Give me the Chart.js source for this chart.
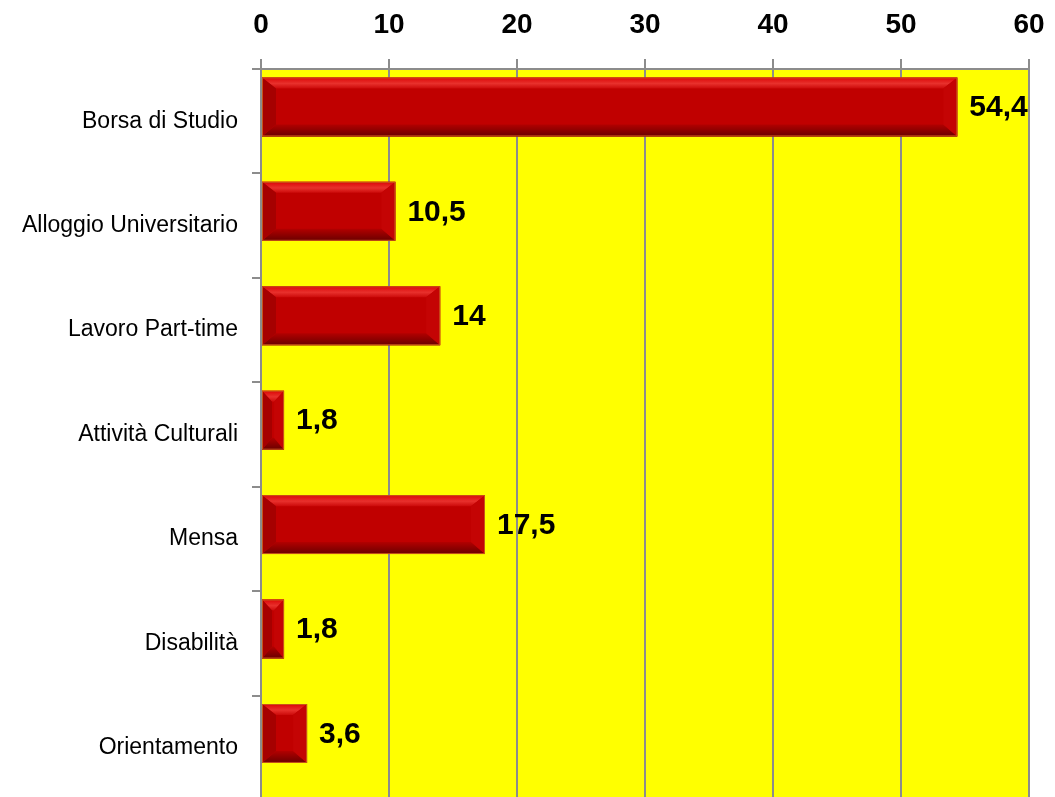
<!DOCTYPE html>
<html lang="it">
<head>
<meta charset="UTF-8">
<meta name="viewport" content="width=device-width, initial-scale=1.0">
<title>Servizi per il diritto allo studio</title>
<style>
    html, body { margin: 0; padding: 0; background: #ffffff; overflow: hidden; }
    #wrap { width: 1055px; height: 800px; }
</style>
</head>
<body>

<div id="wrap">
    <canvas id="myChart"></canvas>
</div>

<script src="https://cdn.jsdelivr.net/npm/chart.js"></script>
<script>
    // valori in percentuale per servizio
    const categorie = ['Borsa di Studio', 'Alloggio Universitario', 'Lavoro Part-time', 'Attività Culturali', 'Mensa', 'Disabilità', 'Orientamento'];
    const valori = [54.4, 10.5, 14, 1.8, 17.5, 1.8, 3.6];
    const asseMin = 0;
    const asseMax = 60;
    const asseStep = 10;

    const GRIGIO = '#8c8c8c';

    // sfondo giallo dell'area del grafico
    const sfondoArea = {
        id: 'sfondoArea',
        beforeDraw(chart) {
            const { ctx, chartArea } = chart;
            ctx.save();
            ctx.fillStyle = '#ffff00';
            ctx.fillRect(chartArea.left, chartArea.top, chartArea.right - chartArea.left, chartArea.bottom - chartArea.top);
            ctx.restore();
        }
    };

    // effetto "smussato" sulle barre, calcolato dalla geometria delle barre
    const smussatura = {
        id: 'smussatura',
        afterDatasetDraw(chart, args) {
            if (args.index !== 0) return;
            const ctx = chart.ctx;
            args.meta.data.forEach(bar => {
                const L = Math.min(bar.base, bar.x);
                const R = Math.max(bar.base, bar.x);
                const T = bar.y - bar.height / 2;
                const B = bar.y + bar.height / 2;
                const b = Math.min(14, (R - L) / 2 - 1);
                const bt = 11;
                const bb = 12;

                ctx.save();
                // faccia superiore
                let g = ctx.createLinearGradient(0, T, 0, T + bt);
                g.addColorStop(0, '#dc0606');
                g.addColorStop(0.55, '#e8302c');
                g.addColorStop(1, '#cc0a0a');
                ctx.fillStyle = g;
                ctx.beginPath();
                ctx.moveTo(L, T); ctx.lineTo(R, T); ctx.lineTo(R - b, T + bt); ctx.lineTo(L + b, T + bt);
                ctx.closePath(); ctx.fill();

                // faccia inferiore
                g = ctx.createLinearGradient(0, B - bb, 0, B);
                g.addColorStop(0, '#b20000');
                g.addColorStop(1, '#6a0000');
                ctx.fillStyle = g;
                ctx.beginPath();
                ctx.moveTo(L, B); ctx.lineTo(R, B); ctx.lineTo(R - b, B - bb); ctx.lineTo(L + b, B - bb);
                ctx.closePath(); ctx.fill();

                // lato sinistro
                ctx.fillStyle = '#a60000';
                ctx.beginPath();
                ctx.moveTo(L, T); ctx.lineTo(L + b, T + bt); ctx.lineTo(L + b, B - bb); ctx.lineTo(L, B);
                ctx.closePath(); ctx.fill();

                // lato destro
                ctx.fillStyle = '#c40404';
                ctx.beginPath();
                ctx.moveTo(R, T); ctx.lineTo(R - b, T + bt); ctx.lineTo(R - b, B - bb); ctx.lineTo(R, B);
                ctx.closePath(); ctx.fill();

                // bordo
                ctx.strokeStyle = '#c8541a';
                ctx.lineWidth = 1;
                ctx.strokeRect(L + 0.5, T + 0.5, R - L - 1, B - T - 1);
                ctx.restore();
            });
        }
    };

    // etichette dei valori a destra delle barre
    const etichetteValori = {
        id: 'etichetteValori',
        afterDatasetsDraw(chart) {
            const ctx = chart.ctx;
            const meta = chart.getDatasetMeta(0);
            ctx.save();
            ctx.font = 'bold 30px "Liberation Sans", Arial, sans-serif';
            ctx.fillStyle = '#000000';
            ctx.textAlign = 'left';
            ctx.textBaseline = 'middle';
            meta.data.forEach((bar, i) => {
                const testo = String(valori[i]).replace('.', ',');
                ctx.fillText(testo, Math.max(bar.x, bar.base) + 12, bar.y + 1);
            });
            ctx.restore();
        }
    };

    const ctx = document.getElementById('myChart');

    new Chart(ctx, {
        type: 'bar',
        data: {
            labels: categorie,
            datasets: [{
                label: 'Servizi',
                data: valori,
                backgroundColor: '#c00000',
                borderWidth: 0,
                categoryPercentage: 0.548,
                barPercentage: 2.06
            }, {
                // serie vuota: sposta la barra nella parte alta della fascia
                label: '',
                data: []
            }]
        },
        options: {
            indexAxis: 'y',
            responsive: true,
            maintainAspectRatio: false,
            devicePixelRatio: 1,
            animation: false,
            layout: { padding: { top: 0, right: 26, bottom: 0, left: 0 } },
            plugins: {
                legend: { display: false },
                tooltip: { enabled: false }
            },
            scales: {
                x: {
                    type: 'linear',
                    position: 'top',
                    min: asseMin,
                    max: asseMax,
                    ticks: {
                        stepSize: asseStep,
                        color: '#000000',
                        padding: 17,
                        font: { family: '"Liberation Sans", Arial, sans-serif', size: 28, weight: 'bold' }
                    },
                    grid: {
                        color: GRIGIO,
                        lineWidth: 2,
                        tickLength: 10,
                        drawOnChartArea: true
                    },
                    border: { color: GRIGIO, width: 2 },
                    afterFit(scale) {
                        scale.height = 69;
                        scale.paddingLeft = 0;
                        scale.paddingRight = 0;
                    }
                },
                y: {
                    type: 'category',
                    offset: true,
                    ticks: {
                        color: '#000000',
                        padding: 14,
                        font: { family: '"Liberation Sans", Arial, sans-serif', size: 23 }
                    },
                    grid: {
                        offset: true,
                        drawOnChartArea: false,
                        color: GRIGIO,
                        lineWidth: 2,
                        tickLength: 9
                    },
                    border: { color: GRIGIO, width: 2 },
                    afterFit(scale) {
                        scale.width = 261;
                        scale.paddingTop = 0;
                        scale.paddingBottom = 0;
                    }
                }
            }
        },
        plugins: [sfondoArea, smussatura, etichetteValori]
    });
</script>

</body>
</html>
